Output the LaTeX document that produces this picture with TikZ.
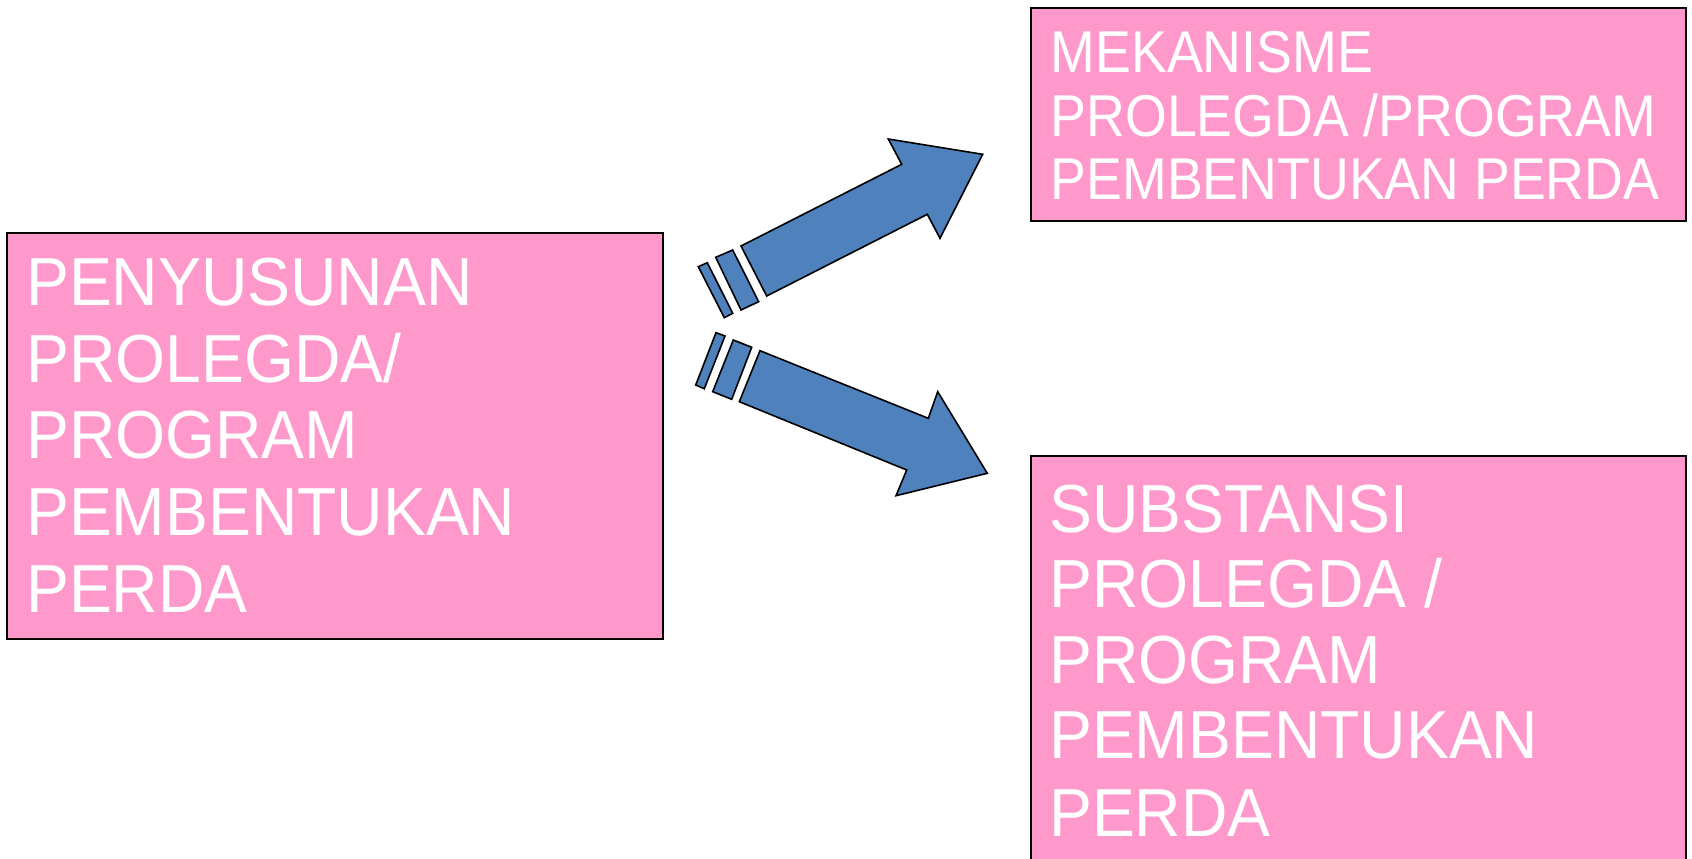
\documentclass[tikz,border=0pt]{standalone}
\usepackage{fontspec}
\setmainfont{Liberation Sans}[FakeStretch=0.91]
\newfontfamily\widerfont{Liberation Sans}[FakeStretch=0.945]
\usetikzlibrary{calc}
\definecolor{boxpink}{HTML}{FF99CC}
\definecolor{arrowblue}{HTML}{4F81BD}
\tikzset{
  pinkbox/.style={draw=black, line width=2pt, fill=boxpink},
  boxtext/.style={text=white, inner sep=0pt, anchor=base west},
  blockarrow/.style={draw=black, line width=1.6pt, fill=arrowblue, line join=miter},
}
\begin{document}
\begin{tikzpicture}[x=1pt, y=-1pt]
  \clip (0,0) rectangle (1692,859);
  \fill[white] (0,0) rectangle (1692,859);

  % boxes
  \draw[pinkbox] (7,232.5) rectangle (662.5,638.5);
  \draw[pinkbox] (1030.5,8) rectangle (1686,221);
  \draw[pinkbox] (1031,456) rectangle (1686,880);

  % left box text
  \begin{scope}[every node/.style={boxtext, font=\widerfont\fontsize{68}{76}\selectfont}]
    \node (l1) at (26,305) {PENYUSUNAN};
    \node (l2) at (26,382) {PROLEGDA/};
    \node (l3) at (26,458.5) {PROGRAM};
    \node (l4) at (26,535.5) {PEMBENTUKAN};
    \node (l5) at (26,612) {PERDA};
  \end{scope}

  % upper right box text
  \begin{scope}[every node/.style={boxtext, font=\fontsize{59}{64}\selectfont}]
    \node (m1) at (1050.5,72.3) {MEKANISME};
    \node (m2) at (1050.5,136) {PROLEGDA /PROGRAM};
    \node (m3) at (1050.5,199.6) {PEMBENTUKAN PERDA};
  \end{scope}

  % lower right box text
  \begin{scope}[every node/.style={boxtext, font=\widerfont\fontsize{68}{76}\selectfont}]
    \node (s1) at (1049,532) {SUBSTANSI};
    \node (s2) at (1049,607.5) {PROLEGDA /};
    \node (s3) at (1049,683) {PROGRAM};
    \node (s4) at (1049,758.5) {PEMBENTUKAN};
    \node (s5) at (1049,836) {PERDA};
  \end{scope}

  % striped block arrow pointing up-right
  \draw[blockarrow] (741,246) -- (901.7,164.3) -- (888.3,139) -- (982.7,154.3)
        -- (940,238.3) -- (927.3,214.3) -- (766.7,296) -- cycle;
  \draw[blockarrow] (715.7,257.3) -- (732.7,250) -- (758.7,301.7) -- (741,310) -- cycle;
  \draw[blockarrow] (698.3,266.7) -- (707.3,262.7) -- (732.7,313.3) -- (724.3,317.7) -- cycle;

  % striped block arrow pointing down-right
  \draw[blockarrow] (760,350.7) -- (928.3,418.3) -- (937.7,391.7) -- (987.3,473.3)
        -- (896,495.7) -- (906.7,470) -- (739.3,401.7) -- cycle;
  \draw[blockarrow] (733.3,340) -- (751.7,347.3) -- (731.7,399.3) -- (712.7,391.7) -- cycle;
  \draw[blockarrow] (716,332.7) -- (725,336) -- (704.3,388.7) -- (695.7,385) -- cycle;
\end{tikzpicture}
\end{document}
